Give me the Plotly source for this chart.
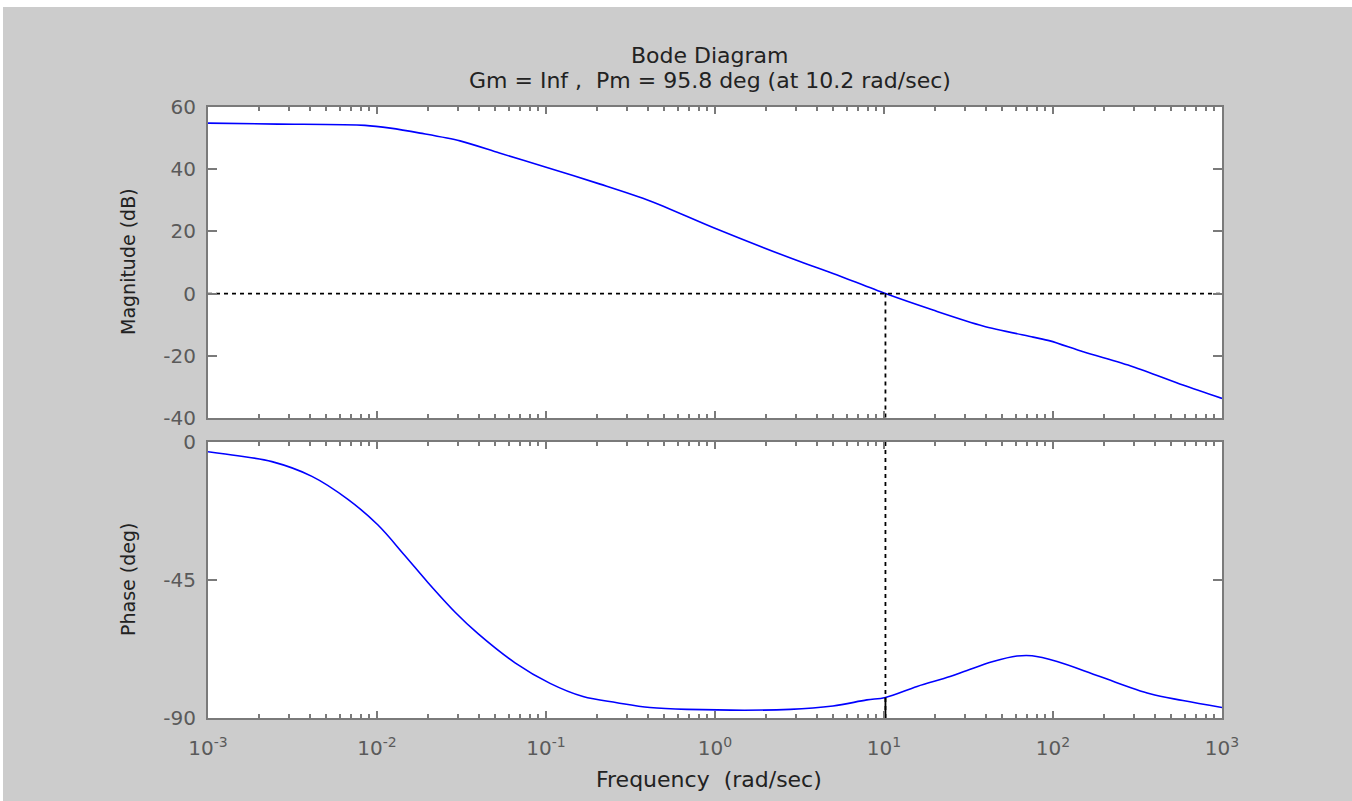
import plotly.graph_objects as go

# ---- data ----
mag_freq = [0.001, 0.00259, 0.00849, 0.012, 0.018, 0.031, 0.053, 0.099, 0.209, 0.413,
            0.99, 3.18, 4.99, 10.2, 19.5, 38.5, 76.3, 96, 151, 297, 587, 1000]
mag_db = [54.8, 54.5, 54.1, 53.2, 51.6, 49.1, 45.2, 40.7, 35.2, 29.8,
          21.1, 10.3, 6.5, 0.0, -5.3, -10.4, -14.0, -15.2, -18.7, -23.5, -29.4, -33.7]

phase_freq = [0.001, 0.0015, 0.00239, 0.00412, 0.00673, 0.0101, 0.0146, 0.0200, 0.0290,
              0.0396, 0.0656, 0.1057, 0.1656, 0.263, 0.412, 0.683, 2.78, 4.99, 7.92,
              10.2, 15.7, 24.6, 31.0, 44.2, 61.2, 75.2, 105.7, 189.7, 375, 587, 1000]
phase_deg = [-3.2, -4.5, -6.4, -11.2, -18.7, -27.0, -37.0, -45.8, -55.5,
             -62.5, -72.0, -78.7, -83.0, -85.0, -86.6, -87.2, -87.2, -86.1, -84.1,
             -83.3, -79.7, -76.5, -74.5, -71.6, -69.8, -69.7, -71.6, -76.5, -82.1, -84.3, -86.6]

crossover_freq = 10.2
phase_at_crossover = -83.3

x_major = [1e-3, 1e-2, 1e-1, 1e0, 1e1, 1e2, 1e3]
x_labels = ["10<sup>-3</sup>", "10<sup>-2</sup>", "10<sup>-1</sup>", "10<sup>0</sup>",
            "10<sup>1</sup>", "10<sup>2</sup>", "10<sup>3</sup>"]
x_minor = [m * d for d in [1e-3, 1e-2, 1e-1, 1e0, 1e1, 1e2] for m in range(2, 10)]

mag_ticks = [60, 40, 20, 0, -20, -40]
mag_labels = ["60", "40", "20", "0", "-20", "-40"]
phase_ticks = [0, -45, -90]
phase_labels = ["0", "-45", "-90"]

title_line1 = "Bode Diagram"
title_line2 = "Gm = Inf ,  Pm = 95.8 deg (at 10.2 rad/sec)"
x_title = "Frequency  (rad/sec)"
mag_title = "Magnitude (dB)"
phase_title = "Phase (deg)"

# ---- figure ----
W, H = 1352, 801
ML, MR, MT, MB = 208, 130, 107, 83
PW, PH = W - ML - MR, H - MT - MB

def px_x(px):
    return (px - ML) / PW

def px_y(py):
    return (H - MB - py) / PH

FONT = "DejaVu Sans, Liberation Sans, Arial, sans-serif"
AX_GRAY = "#7a7a7a"
TICK_FONT = dict(family=FONT, size=20, color="#5a5a5a")
TXT = "#222222"
BLUE = "#0000ff"

fig = go.Figure()
fig.add_trace(go.Scatter(x=mag_freq, y=mag_db, mode="lines",
                         line=dict(color=BLUE, width=1.6, shape="spline", smoothing=0.8),
                         xaxis="x", yaxis="y", hoverinfo="skip", showlegend=False))
fig.add_trace(go.Scatter(x=phase_freq, y=phase_deg, mode="lines",
                         line=dict(color=BLUE, width=1.6, shape="spline", smoothing=1.0),
                         xaxis="x2", yaxis="y2", hoverinfo="skip", showlegend=False))

dash = dict(color="black", width=1.8, dash="4px,4px")
fig.add_trace(go.Scatter(x=[x_major[0], x_major[-1]], y=[0, 0], mode="lines", line=dash,
                         xaxis="x", yaxis="y", showlegend=False, hoverinfo="skip"))
fig.add_trace(go.Scatter(x=[crossover_freq, crossover_freq], y=[0, mag_ticks[-1]], mode="lines",
                         line=dash, xaxis="x", yaxis="y", showlegend=False, hoverinfo="skip"))
fig.add_trace(go.Scatter(x=[crossover_freq, crossover_freq], y=[phase_ticks[0], phase_ticks[-1]],
                         mode="lines", line=dash, xaxis="x2", yaxis="y2",
                         showlegend=False, hoverinfo="skip"))
fig.add_trace(go.Scatter(x=[crossover_freq, crossover_freq], y=[phase_ticks[-1], phase_at_crossover],
                         mode="lines", line=dict(color="black", width=1.8), xaxis="x2", yaxis="y2",
                         showlegend=False, hoverinfo="skip"))

common_x = dict(type="log", range=[-3, 3], tickmode="array", tickvals=x_major,
                ticks="inside", ticklen=7, tickwidth=1.5, tickcolor=AX_GRAY,
                showline=True, linecolor=AX_GRAY, linewidth=2, mirror="ticks",
                showgrid=False, zeroline=False,
                minor=dict(tickmode="array", tickvals=x_minor, ticks="inside", ticklen=4,
                           tickwidth=1.5, tickcolor=AX_GRAY, showgrid=False))
common_y = dict(tickmode="array", ticks="inside", ticklen=9, tickwidth=1.5, tickcolor=AX_GRAY,
                showline=True, linecolor=AX_GRAY, linewidth=2, mirror="ticks",
                showgrid=False, zeroline=False, tickfont=TICK_FONT, ticklabelstandoff=6)

top_dom = [px_y(418), 1.0]
bot_dom = [0.0, px_y(442)]

fig.update_layout(
    width=W, height=H,
    margin=dict(l=ML, r=MR, t=MT, b=MB, pad=0),
    paper_bgcolor="#cccccc", plot_bgcolor="white",
    showlegend=False,
    xaxis=dict(common_x, anchor="y", domain=[0, 1], showticklabels=False),
    yaxis=dict(common_y, anchor="x", domain=top_dom, range=[-40, 60],
               tickvals=mag_ticks, ticktext=mag_labels),
    xaxis2=dict(common_x, anchor="y2", domain=[0, 1], ticktext=x_labels,
                tickfont=TICK_FONT, ticklabelstandoff=11),
    yaxis2=dict(common_y, anchor="x2", domain=bot_dom, range=[-90, 0],
                tickvals=phase_ticks, ticktext=phase_labels),
    shapes=[
        dict(type="rect", xref="paper", yref="paper", x0=px_x(0), x1=px_x(W),
             y0=px_y(7), y1=px_y(0), fillcolor="white", line=dict(width=0), layer="below"),
        dict(type="rect", xref="paper", yref="paper", x0=px_x(0), x1=px_x(3),
             y0=px_y(H), y1=px_y(0), fillcolor="white", line=dict(width=0), layer="below"),
    ],
    annotations=[
        dict(text=title_line1, xref="paper", yref="paper", x=px_x(710), y=px_y(55),
             showarrow=False, font=dict(family=FONT, size=22, color=TXT),
             xanchor="center", yanchor="middle"),
        dict(text=title_line2, xref="paper", yref="paper", x=px_x(710), y=px_y(80),
             showarrow=False, font=dict(family=FONT, size=22, color=TXT),
             xanchor="center", yanchor="middle"),
        dict(text=x_title, xref="paper", yref="paper", x=px_x(709), y=px_y(779),
             showarrow=False, font=dict(family=FONT, size=22, color=TXT),
             xanchor="center", yanchor="middle"),
        dict(text=mag_title, xref="paper", yref="paper", x=px_x(128), y=px_y(262),
             showarrow=False, textangle=-90, font=dict(family=FONT, size=19, color=TXT),
             xanchor="center", yanchor="middle"),
        dict(text=phase_title, xref="paper", yref="paper", x=px_x(128), y=px_y(580),
             showarrow=False, textangle=-90, font=dict(family=FONT, size=19, color=TXT),
             xanchor="center", yanchor="middle"),
    ],
)

fig.write_html("out.html", config={"displayModeBar": False},
               post_script="document.body.style.margin='0';")
